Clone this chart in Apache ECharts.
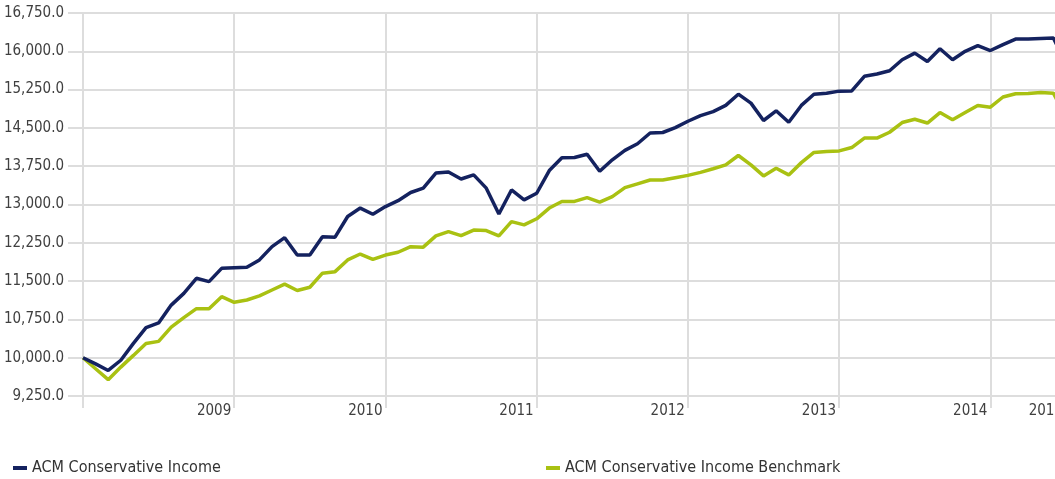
<!DOCTYPE html>
<html>
<head>
<meta charset="utf-8">
<script src="https://cdn.jsdelivr.net/npm/echarts@6/dist/echarts.min.js"></script>
<style>
  html, body { margin: 0; padding: 0; background: #fff; }
  #chart { width: 1055px; height: 479px; }
</style>
</head>
<body>
<div id="chart"></div>
<script>
// monthly points, first one is the 10,000 start
const startYear = 2008;
const monthCount = 79;
const months = [];
for (let i = 0; i < monthCount; i++) {
  const y = startYear + Math.floor(i / 12);
  const m = (i % 12) + 1;
  months.push(y + "-" + String(m).padStart(2, "0"));
}

// year labels shown on the x axis (index -> text)
const yearTickIndex = [12, 24, 36, 48, 60, 72, 78];
const yearTickLabels = ["2009", "2010", "2011", "2012", "2013", "2014", "2015"];
const yearLineIndex = [0, 12, 24, 36, 48, 60, 72];

const fundName = "ACM Conservative Income";
const benchName = "ACM Conservative Income Benchmark";

const fundValues = [
  10000, 9880, 9750, 9950, 10280, 10590, 10680, 11030, 11260, 11555, 11490, 11750,
  11760, 11770, 11915, 12175, 12350, 12010, 12010, 12370, 12360, 12765, 12930, 12810,
  12960, 13075, 13235, 13320, 13615, 13635, 13500, 13580, 13320, 12815, 13285, 13090,
  13220, 13665, 13915, 13920, 13985, 13650, 13875, 14060, 14190, 14400, 14410, 14505,
  14630, 14740, 14820, 14940, 15160, 14985, 14645, 14835, 14610, 14940, 15160, 15180,
  15220, 15225, 15510, 15555, 15620, 15835, 15965, 15800, 16050, 15835, 16000, 16110,
  16015, 16130, 16240, 16240, 16250, 16260, 15750
];

const benchValues = [
  10000, 9784, 9570, 9816, 10045, 10280, 10320, 10600, 10785, 10960, 10960, 11195,
  11085, 11130, 11210, 11325, 11440, 11315, 11380, 11655, 11685, 11915, 12030, 11925,
  12010, 12065, 12175, 12165, 12385, 12470, 12390, 12500, 12490, 12385, 12665, 12600,
  12720, 12930, 13060, 13060, 13135, 13045, 13155, 13330, 13405, 13480, 13480, 13525,
  13570, 13630, 13700, 13775, 13960, 13775, 13560, 13710, 13580, 13820, 14020, 14040,
  14050, 14115, 14300, 14300, 14415, 14605, 14670, 14595, 14800, 14660, 14800, 14940,
  14905, 15105, 15170, 15175, 15195, 15180, 14700
];

const font = '"Liberation Sans Narrow", "DejaVu Sans Condensed", sans-serif';
const gridColor = "#dddddd";

const chart = echarts.init(document.getElementById("chart"));

chart.setOption({
  animation: false,
  textStyle: { fontFamily: font },
  grid: { left: 83, top: 13, width: 983, height: 383, outerBoundsMode: "none", containLabel: false },
  legend: [
    {
      left: 8, top: 455,
      data: [fundName],
      icon: "rect", itemWidth: 14, itemHeight: 4, itemGap: 4,
      textStyle: { fontFamily: font, fontSize: 16, color: "#333" }
    },
    {
      left: 541, top: 455,
      data: [benchName],
      icon: "rect", itemWidth: 14, itemHeight: 4, itemGap: 4,
      textStyle: { fontFamily: font, fontSize: 16, color: "#333" }
    }
  ],
  xAxis: {
    type: "category",
    data: months,
    boundaryGap: false,
    axisLine: { show: false },
    axisTick: {
      show: true,
      length: 12,
      interval: (i) => yearLineIndex.includes(i),
      lineStyle: { color: gridColor, width: 2 }
    },
    splitLine: {
      show: true,
      interval: (i) => yearLineIndex.includes(i),
      lineStyle: { color: gridColor, width: 2 }
    },
    axisLabel: {
      interval: (i) => yearTickIndex.includes(i),
      formatter: (v, i) => {
        const k = yearTickIndex.indexOf(i);
        return k >= 0 ? yearTickLabels[k] : "";
      },
      align: "right",
      padding: [0, 3, 0, 0],
      margin: 8,
      fontFamily: font,
      fontSize: 15,
      color: "#404040"
    }
  },
  yAxis: {
    type: "value",
    min: 9250,
    max: 16750,
    interval: 750,
    axisLine: { show: false },
    axisTick: { show: true, length: 15, lineStyle: { color: gridColor, width: 2 } },
    splitLine: { lineStyle: { color: gridColor, width: 2 } },
    axisLabel: {
      margin: 19,
      fontFamily: font,
      fontSize: 15,
      color: "#404040",
      formatter: (v) => v.toLocaleString("en-US", { minimumFractionDigits: 1, maximumFractionDigits: 1 })
    }
  },
  series: [
    {
      name: benchName,
      type: "line",
      data: benchValues,
      showSymbol: false,
      lineStyle: { color: "#a9c112", width: 3.5 },
      itemStyle: { color: "#a9c112" },
      z: 2
    },
    {
      name: fundName,
      type: "line",
      data: fundValues,
      showSymbol: false,
      lineStyle: { color: "#14225f", width: 3.5 },
      itemStyle: { color: "#14225f" },
      z: 3
    }
  ]
});
</script>
</body>
</html>
